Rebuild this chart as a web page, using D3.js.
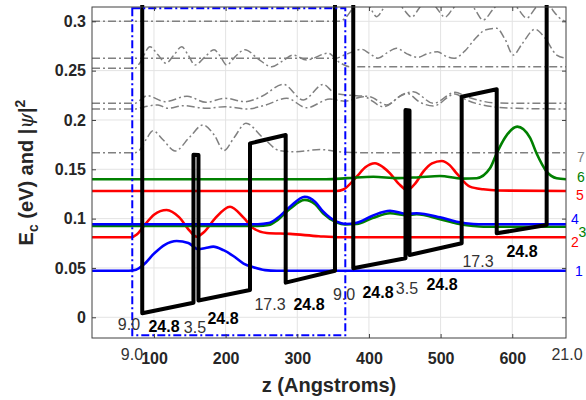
<!DOCTYPE html>
<html><head><meta charset="utf-8">
<script src="https://cdn.jsdelivr.net/npm/d3@7"></script>
<style>
body{margin:0;background:#fff}
svg{display:block}
text{font-family:"Liberation Sans",Arial,Helvetica,sans-serif}
</style>
</head><body>
<svg id="chart" width="586" height="400"></svg>
<script>
// ---------- data ----------
const zDomain = [13.5, 675];
const eDomain = [-0.021, 0.3145];
const xTicks = [100, 200, 300, 400, 500, 600];
const yTicks = [0, 0.05, 0.1, 0.15, 0.2, 0.25, 0.3];
const yTickLabels = ["0", "0.05", "0.1", "0.15", "0.2", "0.25", "0.3"];

// conduction band edge (Angstrom, eV), two pieces
const bandZ1 = [83.6, 83.6, 155.1, 155.1, 162.1, 162.1, 234.0, 234.0, 283.8, 283.8, 352.6, 352.6];
const bandE1 = [0.3165, 0.0041, 0.0148, 0.1648, 0.1645, 0.0170, 0.0277, 0.1763, 0.1848, 0.0351, 0.0472, 0.3165];
const bandZ2 = [378.1, 378.1, 451.0, 451.0, 456.6, 456.6, 529.4, 529.4, 578.3, 578.3, 648.0, 648.0];
const bandE2 = [0.3165, 0.0497, 0.0598, 0.2101, 0.2096, 0.0631, 0.0750, 0.2236, 0.2311, 0.0851, 0.0935, 0.3165];

// wavefunctions E + |psi|^2 : [z, E]
const psi1 = [[13.5,0.0472],[65,0.0472],[75,0.0482],[85,0.053],[100,0.0645],[115,0.0735],[131.7,0.0773],[148,0.0752],[161.8,0.0689],[172,0.0702],[182.8,0.0716],[197,0.068],[210.7,0.0621],[225,0.0545],[238.6,0.0507],[255,0.0478],[271.3,0.0472],[675,0.0472]];
const psi2 = [[13.5,0.0811],[68,0.0811],[76,0.0838],[85.1,0.0918],[100,0.104],[117.7,0.1088],[135,0.1015],[150,0.0875],[159.6,0.0817],[170,0.0865],[185,0.1],[206.1,0.1121],[225,0.101],[238.6,0.0902],[257.3,0.0855],[289.8,0.0845],[330,0.0822],[360,0.0811],[675,0.0811]];
const psi3 = [[13.5,0.0925],[245,0.0925],[260,0.0935],[271.3,0.098],[289.8,0.110],[310.3,0.119],[325,0.1145],[336.3,0.105],[355,0.096],[366.6,0.094],[382.9,0.0945],[405,0.1005],[429.4,0.1055],[452.7,0.1035],[466.6,0.1045],[499.1,0.0995],[522.4,0.095],[545.6,0.0925],[560,0.0918],[675,0.0918]];
const psi4 = [[13.5,0.0943],[245,0.0943],[260,0.0955],[271.3,0.100],[289.8,0.112],[310.3,0.1222],[325,0.117],[336.3,0.107],[355,0.0969],[366.6,0.0946],[382.9,0.0959],[405,0.103],[429.4,0.108],[452.7,0.1047],[466.6,0.1054],[499.1,0.1013],[522.4,0.0969],[545.6,0.0946],[560,0.0943],[675,0.0943]];
const psi5 = [[13.5,0.128],[355,0.128],[364.2,0.1295],[382.9,0.1425],[395,0.152],[408.4,0.1561],[420,0.152],[429.4,0.1459],[442,0.135],[453.5,0.129],[465,0.136],[475.8,0.1476],[488,0.156],[501.5,0.1584],[513,0.154],[522.4,0.1459],[541,0.1324],[559.6,0.1297],[580,0.1285],[675,0.128]];
const psi6 = [[13.5,0.1399],[340,0.1399],[370,0.141],[406.1,0.1425],[440,0.141],[470,0.142],[499.1,0.1432],[530,0.1405],[550.4,0.141],[568.9,0.151],[578.3,0.1662],[589.8,0.182],[607,0.1932],[624.7,0.182],[634,0.166],[648,0.1476],[662,0.1409],[675,0.1399]];
const psi7 = [[13.5,0.1668],[73.5,0.1668],[80.5,0.170],[88.9,0.180],[98.6,0.189],[112.6,0.180],[129.3,0.1685],[150.3,0.183],[168.4,0.195],[183.8,0.185],[197.7,0.169],[211.7,0.182],[228.4,0.1966],[252.1,0.182],[275.8,0.1688],[296.8,0.1678],[331.7,0.170],[366.6,0.1672],[401.5,0.1668],[675,0.1668]];
const psi8 = [[13.5,0.2111],[73.5,0.2111],[87.5,0.2135],[105.6,0.2152],[119.6,0.2118],[140.9,0.2145],[173.6,0.2118],[199.1,0.2135],[229.4,0.2111],[255,0.2150],[285.2,0.2220],[313.1,0.2124],[345.6,0.2212],[366.6,0.219],[392.1,0.2236],[420,0.2134],[452.7,0.2270],[471.2,0.218],[489.8,0.2141],[520.1,0.2263],[536.4,0.2202],[573.1,0.2134],[606.2,0.2118],[675,0.2111]];
const psi9 = [[13.5,0.2169],[73.5,0.2169],[80.5,0.220],[90.3,0.2246],[115.4,0.2185],[146.1,0.2240],[172.6,0.2179],[199.1,0.2220],[227,0.2185],[250.7,0.224],[280.5,0.2361],[308.4,0.2202],[336.3,0.2361],[352.6,0.227],[382.9,0.2246],[401.5,0.2236],[424.7,0.2152],[443.3,0.224],[461.9,0.2286],[489.8,0.2169],[520.1,0.2280],[536.4,0.2236],[573.1,0.2175],[606.2,0.2169],[675,0.2169]];
const psi10 = [[13.5,0.2524],[73.5,0.2524],[80.5,0.258],[94.4,0.2742],[105.6,0.266],[116.8,0.2574],[128,0.266],[138.7,0.2742],[147.5,0.266],[157.2,0.2557],[171.2,0.264],[183.8,0.2712],[192.1,0.265],[201.5,0.2557],[213.1,0.264],[227,0.2712],[245.2,0.262],[264.3,0.254],[280,0.260],[294,0.2658],[313.1,0.2608],[342.8,0.2676],[359.6,0.258],[373.5,0.254],[675,0.254]];
const psi11 = [[13.5,0.2625],[352.6,0.2625],[366.6,0.266],[389.9,0.2716],[401.5,0.267],[412.6,0.2625],[425.2,0.268],[438.7,0.2726],[453.1,0.267],[468.4,0.2635],[481,0.267],[495.6,0.2692],[506.1,0.265],[518.7,0.2625],[534,0.270],[547.9,0.282],[563.3,0.2915],[578.3,0.2929],[589.8,0.282],[601.4,0.2658],[613.6,0.277],[631.7,0.2919],[645.7,0.283],[662,0.2658],[675,0.2625]];
const psi12 = [[13.5,0.300],[356.8,0.300],[366.6,0.303],[376.3,0.312],[390.3,0.325],[401.5,0.314],[410.8,0.3047],[421,0.314],[433.5,0.325],[447.5,0.313],[459.6,0.3043],[469.8,0.313],[482.4,0.325],[494.9,0.313],[506.1,0.3043],[517.3,0.313],[535.4,0.325],[548,0.312],[559.2,0.3013],[573.1,0.312],[591.2,0.325],[606.6,0.314],[620.1,0.3033],[633.1,0.314],[647.1,0.322],[656.8,0.311],[670.8,0.301],[675,0.300]];

const coloredStates = [psi1, psi2, psi3, psi4, psi5, psi6];
const coloredColors = ["#0000ff", "#ff0000", "#008000", "#0000ff", "#ff0000", "#008000"];
const grayStates = [psi7, psi8, psi9, psi10, psi11, psi12];

// state numbers at the right edge
const stateNames = ["1", "2", "3", "4", "5", "6", "7"];
const stateLevels = [0.0472, 0.0811, 0.0918, 0.0943, 0.128, 0.1399, 0.1668];
const stateColors = ["#0000ff", "#ff0000", "#008000", "#0000ff", "#ff0000", "#008000", "#808080"];

// layer thickness annotations
const layerText = ["9.0", "24.8", "3.5", "24.8", "17.3", "24.8", "9.0", "24.8", "3.5", "24.8", "17.3", "24.8"];
const layerZ = [65.1, 114.0, 157.2, 196.3, 261.9, 316.3, 365.2, 412.6, 453.1, 501.9, 552.2, 613.6];
const layerE = [-0.0068, -0.0088, -0.0098, -0.0007, 0.0135, 0.0135, 0.0236, 0.0256, 0.0297, 0.0337, 0.0571, 0.0672];
const edgeText = ["9.0", "21.0"];
const edgeZ = [69.3, 676.4];

// dash-dot box (one period)
const boxZ = [69.7, 367.0];
const boxE = [-0.0182, 0.3132];

// ---------- drawing ----------
const L = 92, R = 566, T = 7, B = 338;
const svg = d3.select("#chart");
const x = d3.scaleLinear().domain(zDomain).range([L, R]);
const y = d3.scaleLinear().domain(eDomain).range([B, T]);

svg.append("defs").append("clipPath").attr("id", "clip")
  .append("rect").attr("x", L).attr("y", T).attr("width", R - L).attr("height", B - T);

// grid
const grid = svg.append("g");
grid.selectAll("line.vx").data(xTicks).join("line")
  .attr("x1", d => x(d)).attr("x2", d => x(d)).attr("y1", T).attr("y2", B)
  .attr("stroke", "#e3e3e3").attr("stroke-width", 1);
grid.selectAll("line.hy").data(yTicks).join("line")
  .attr("x1", L).attr("x2", R).attr("y1", d => y(d)).attr("y2", d => y(d))
  .attr("stroke", "#e3e3e3").attr("stroke-width", 1);

const smooth = d3.line().x(d => x(d[0])).y(d => y(d[1])).curve(d3.curveMonotoneX);
const straight = d3.line().x(d => x(d[0])).y(d => y(d[1]));
const plot = svg.append("g").attr("clip-path", "url(#clip)");

// gray higher states
plot.selectAll("path.gray").data(grayStates).join("path")
  .attr("d", smooth).attr("fill", "none").attr("stroke", "#808080")
  .attr("stroke-width", 1.5).attr("stroke-dasharray", "8,3,2,3");

// band profile
const bands = [d3.zip(bandZ1, bandE1), d3.zip(bandZ2, bandE2)];
svg.selectAll("path.band").data(bands).join("path")
  .attr("d", straight).attr("fill", "none").attr("stroke", "#000").attr("stroke-width", 4)
  .attr("stroke-linejoin", "round");

// colored states
plot.selectAll("path.col").data(coloredStates).join("path")
  .attr("d", smooth).attr("fill", "none")
  .attr("stroke", (d, i) => coloredColors[i]).attr("stroke-width", 2.6);

// dash-dot box
svg.append("rect")
  .attr("x", x(boxZ[0])).attr("y", y(boxE[1]))
  .attr("width", x(boxZ[1]) - x(boxZ[0])).attr("height", y(boxE[0]) - y(boxE[1]))
  .attr("fill", "none").attr("stroke", "#0000ff").attr("stroke-width", 2)
  .attr("stroke-dasharray", "8,3,2,3");

// axes
const axisColor = "#404040";
const ax = svg.append("g");
function styleAxis(g) {
  g.select(".domain").remove();
  g.selectAll(".tick line").attr("stroke", axisColor);
  g.selectAll("text").attr("fill", "#262626").attr("font-size", 16).attr("font-weight", "bold")
    .attr("font-family", '"Liberation Sans",Arial,Helvetica,sans-serif');
}
ax.append("g").attr("transform", `translate(0,${B})`)
  .call(d3.axisBottom(x).tickValues(xTicks).tickSize(-4).tickPadding(15).tickFormat(d3.format("d")))
  .call(styleAxis);
ax.append("g").attr("transform", `translate(0,${T})`)
  .call(d3.axisTop(x).tickValues(xTicks).tickSize(-4).tickFormat(""))
  .call(styleAxis);
ax.append("g").attr("transform", `translate(${L},0)`)
  .call(d3.axisLeft(y).tickValues(yTicks).tickSize(-4).tickPadding(6).tickFormat((d, i) => yTickLabels[i]))
  .call(styleAxis);
ax.append("g").attr("transform", `translate(${R},0)`)
  .call(d3.axisRight(y).tickValues(yTicks).tickSize(-4).tickFormat(""))
  .call(styleAxis);
ax.append("rect").attr("x", L).attr("y", T).attr("width", R - L).attr("height", B - T)
  .attr("fill", "none").attr("stroke", axisColor).attr("stroke-width", 1);

// layer annotations
svg.selectAll("text.layer").data(layerText).join("text")
  .attr("x", (d, i) => x(layerZ[i])).attr("y", (d, i) => y(layerE[i]))
  .attr("dy", "0.35em").attr("text-anchor", "middle")
  .attr("font-size", 16)
  .attr("font-weight", d => d === "24.8" ? "bold" : "normal")
  .attr("fill", d => d === "24.8" ? "#000" : "#333")
  .text(d => d);
svg.selectAll("text.edge").data(edgeText).join("text")
  .attr("x", (d, i) => x(edgeZ[i])).attr("y", B + 16)
  .attr("dy", "0.35em").attr("text-anchor", "middle")
  .attr("font-size", 16).attr("fill", "#333").text(d => d);

// state numbers
const labelDy = [0, 5, 5, -5, 4, -2, 4];
const labelX = [575, 571, 578.5, 571, 576, 577, 577];
svg.selectAll("text.state").data(stateNames).join("text")
  .attr("x", (d, i) => labelX[i]).attr("y", (d, i) => y(stateLevels[i]) + labelDy[i])
  .attr("dy", "0.35em").attr("font-size", 14)
  .attr("fill", (d, i) => stateColors[i]).text(d => d);

// axis titles
svg.append("text").attr("x", (L + R) / 2).attr("y", 392).attr("text-anchor", "middle")
  .attr("font-size", 20).attr("font-weight", "bold").attr("fill", "#262626")
  .text("z (Angstroms)");

const yl = svg.append("text").attr("transform", `translate(33,${(T + B) / 2}) rotate(-90)`)
  .attr("text-anchor", "middle").attr("font-size", 20).attr("font-weight", "bold").attr("fill", "#262626");
yl.append("tspan").text("E");
yl.append("tspan").attr("font-size", 14).attr("dy", 5).text("c");
yl.append("tspan").attr("dy", -5).text(" (eV) and |");
yl.append("tspan").attr("font-style", "italic").attr("font-weight", "normal")
  .attr("font-family", '"DejaVu Serif",serif').text("ψ");
yl.append("tspan").text("|");
yl.append("tspan").attr("font-size", 14).attr("dy", -8).text("2");
</script>
</body></html>
